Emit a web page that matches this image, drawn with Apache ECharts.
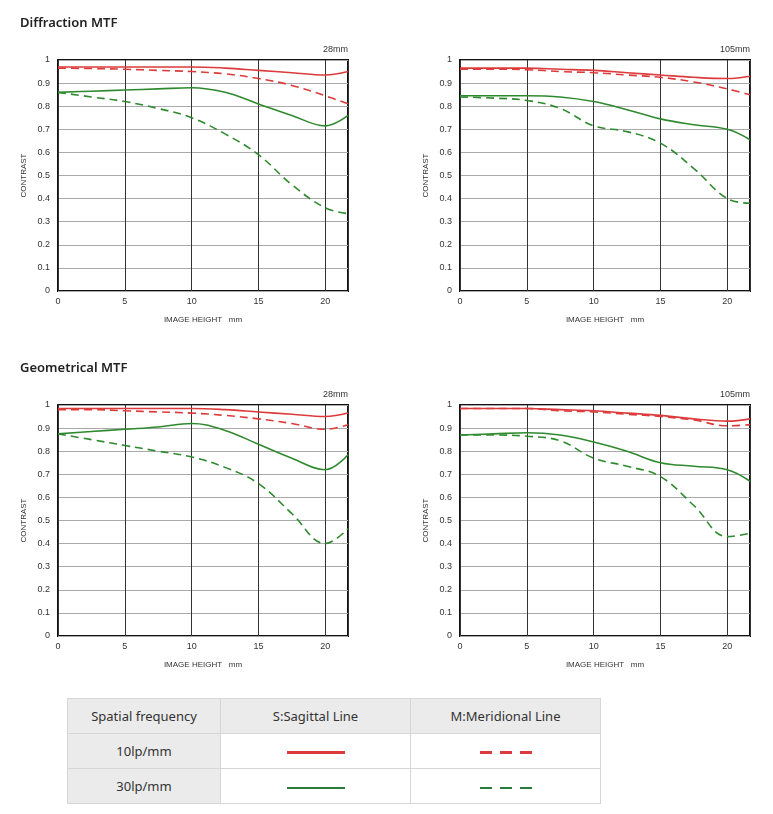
<!DOCTYPE html>
<html lang="en">
<head>
<meta charset="UTF-8">
<title>MTF</title>
<script src="https://cdn.jsdelivr.net/npm/echarts@6/dist/echarts.min.js"></script>
<style>
    body { margin: 0; background: #fff; font-family: "Noto Sans", sans-serif; }
    #chart { position: absolute; left: 0; top: 0; width: 773px; height: 690px; }
    .legend-table { position: absolute; left: 67px; top: 698px; border-collapse: collapse; font-size: 13px; color: #333; table-layout: fixed; width: 532px; }
    .legend-table td { border: 1px solid #d6d6d6; text-align: center; height: 34px; padding: 0; }
    .legend-table .head td, .legend-table td.first { background: #ebebeb; }
    .ln { display: inline-block; width: 58px; height: 3px; vertical-align: middle; }
    .red { background: #dd3b3b; }
    .green { background: #2a7a3a; height: 2px; }
    .red-d { width: 52px; background: repeating-linear-gradient(90deg, #dd3b3b 0 12px, transparent 12px 20px); }
    .green-d { width: 52px; height: 2px; background: repeating-linear-gradient(90deg, #2a7a3a 0 12px, transparent 12px 20px); }
</style>
</head>
<body>
<div id="chart"></div>
<table class="legend-table">
    <tr class="head"><td style="width:152px">Spatial frequency</td><td style="width:189px">S:Sagittal Line</td><td style="width:189px">M:Meridional Line</td></tr>
    <tr><td class="first">10lp/mm</td><td><span class="ln red"></span></td><td><span class="ln red-d"></span></td></tr>
    <tr><td class="first">30lp/mm</td><td><span class="ln green"></span></td><td><span class="ln green-d"></span></td></tr>
</table>
<script type="text/javascript">
    // image height positions (mm)
    const heights = [0, 2.5, 5, 7.5, 10, 12.5, 15, 17.5, 20, 21.7];

    // Diffraction MTF 28mm
    const dif28S10 = [.97, .97, .97, .97, .97, .965, .955, .945, .935, .95];
    const dif28M10 = [.965, .963, .96, .955, .95, .94, .92, .89, .845, .81];
    const dif28S30 = [.86, .865, .87, .875, .88, .86, .81, .76, .715, .76];
    const dif28M30 = [.86, .84, .82, .79, .75, .68, .59, .46, .36, .335];
    // Diffraction MTF 105mm
    const dif105S10 = [.965, .965, .965, .96, .955, .945, .935, .925, .92, .93];
    const dif105M10 = [.96, .96, .958, .95, .945, .935, .925, .905, .875, .85];
    const dif105S30 = [.845, .845, .845, .84, .82, .785, .745, .72, .70, .655];
    const dif105M30 = [.84, .835, .825, .79, .715, .69, .64, .53, .40, .38];
    // Geometrical MTF 28mm
    const geo28S10 = [.985, .985, .985, .985, .985, .98, .97, .96, .95, .965];
    const geo28M10 = [.98, .98, .975, .97, .965, .955, .94, .92, .895, .915];
    const geo28S30 = [.875, .885, .895, .905, .92, .89, .83, .77, .72, .785];
    const geo28M30 = [.875, .85, .825, .80, .775, .73, .66, .53, .40, .465];
    // Geometrical MTF 105mm
    const geo105S10 = [.985, .985, .985, .98, .975, .965, .955, .94, .93, .94];
    const geo105M10 = [.985, .985, .985, .975, .97, .96, .95, .935, .91, .915];
    const geo105S30 = [.87, .875, .88, .87, .84, .80, .75, .735, .72, .67];
    const geo105M30 = [.87, .87, .865, .845, .77, .735, .69, .565, .43, .445];

    const panels = [
        {left: 58, top: 60, focal: '28mm', data: [dif28S10, dif28M10, dif28S30, dif28M30]},
        {left: 460, top: 60, focal: '105mm', data: [dif105S10, dif105M10, dif105S30, dif105M30]},
        {left: 58, top: 405, focal: '28mm', data: [geo28S10, geo28M10, geo28S30, geo28M30]},
        {left: 460, top: 405, focal: '105mm', data: [geo105S10, geo105M10, geo105S30, geo105M30]}
    ];
    const RED = '#dd3b3b', GREEN = '#2f8a2f';
    const styles = [[RED, 'solid'], [RED, 'dashed'], [GREEN, 'solid'], [GREEN, 'dashed']];

    let grid = [], xAxis = [], yAxis = [], series = [], graphic = [];
    panels.forEach((p, i) => {
        grid.push({left: p.left, top: p.top, width: 290, height: 231, show: true, borderColor: '#111', borderWidth: 2, backgroundColor: 'transparent'});
        xAxis.push({
            gridIndex: i, type: 'value', min: 0, max: 21.7, interval: 5,
            name: 'IMAGE HEIGHT   mm', nameLocation: 'middle', nameGap: 25,
            nameTextStyle: {fontSize: 8, color: '#333'},
            axisLine: {show: false}, axisTick: {show: false},
            axisLabel: {fontSize: 9, color: '#333', margin: 6, showMaxLabel: false},
            splitLine: {lineStyle: {color: '#333', width: 1}}
        });
        yAxis.push({
            gridIndex: i, type: 'value', min: 0, max: 1, interval: 0.1,
            name: 'CONTRAST', nameLocation: 'middle', nameGap: 30,
            nameTextStyle: {fontSize: 8, color: '#333'},
            axisLine: {show: false}, axisTick: {show: false},
            axisLabel: {fontSize: 9, color: '#333', margin: 8, formatter: v => String(Math.round(v * 10) / 10)},
            splitLine: {lineStyle: {color: '#aaa', width: 1}}
        });
        p.data.forEach((d, k) => {
            series.push({
                type: 'line', xAxisIndex: i, yAxisIndex: i, smooth: 0.4, symbol: 'none',
                data: heights.map((h, j) => [h, d[j]]),
                lineStyle: {color: styles[k][0], type: styles[k][1] === 'dashed' ? [8, 5] : 'solid', width: 1.6}
            });
        });
        graphic.push({type: 'text', right: 773 - (p.left + 290), top: p.top - 15,
            style: {text: p.focal, fontSize: 9, fill: '#333', font: '9px "Noto Sans"'}});
    });
    graphic.push({type: 'text', left: 20, top: 17, style: {text: 'Diffraction MTF', font: '600 13px "Noto Sans"', fill: '#222'}});
    graphic.push({type: 'text', left: 20, top: 362, style: {text: 'Geometrical MTF', font: '600 13px "Noto Sans"', fill: '#222'}});

    const chart = echarts.init(document.getElementById('chart'));
    chart.setOption({animation: false, grid, xAxis, yAxis, series, graphic});
</script>
</body>
</html>
